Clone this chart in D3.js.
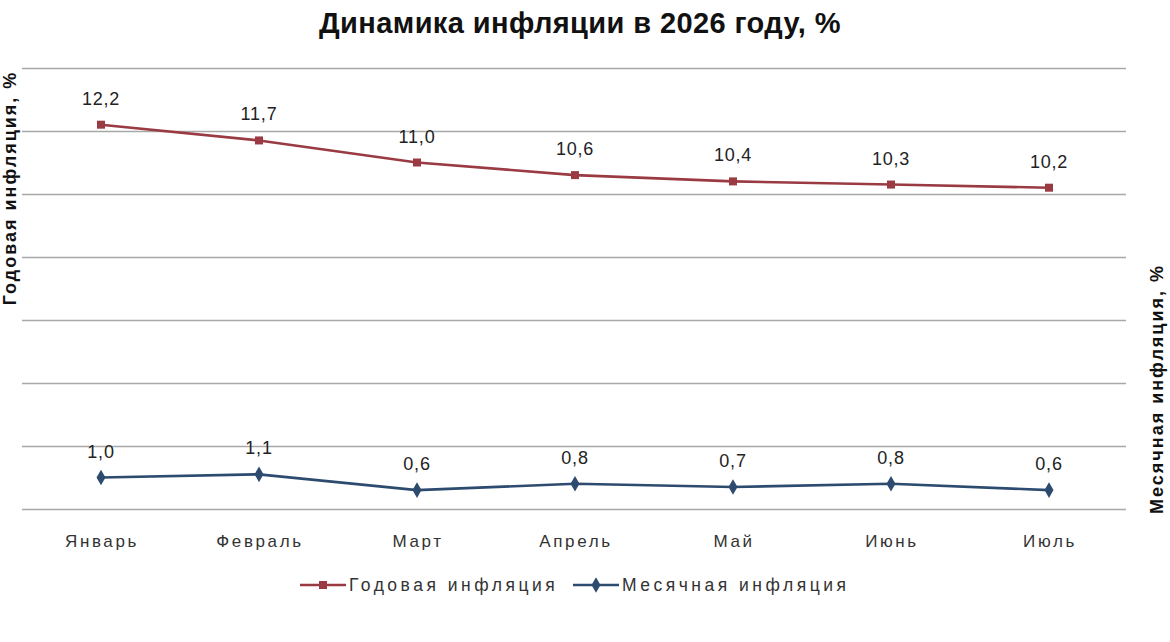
<!DOCTYPE html>
<html>
<head>
<meta charset="utf-8">
<script src="https://cdn.jsdelivr.net/npm/d3@7"></script>
<style>
  body { margin: 0; background: #fff; }
  svg { font-family: "Liberation Sans", Arial, sans-serif; }
</style>
</head>
<body>
<div id="chart"></div>
<script>
// values
const months = ["Январь", "Февраль", "Март", "Апрель", "Май", "Июнь", "Июль"];
const annual = [12.2, 11.7, 11.0, 10.6, 10.4, 10.3, 10.2];
const monthly = [1.0, 1.1, 0.6, 0.8, 0.7, 0.8, 0.6];
const yTicks = [0, 2, 4, 6, 8, 10, 12, 14];

const width = 1170, height = 642;
const margin = { top: 68, right: 42, bottom: 133, left: 22 };

const svg = d3.select("#chart").append("svg")
  .attr("width", width)
  .attr("height", height);

const x = d3.scaleBand().domain(months).range([margin.left, width - margin.right]);
const cx = m => x(m) + x.bandwidth() / 2;
const y = d3.scaleLinear().domain([0, 14]).range([height - margin.bottom, margin.top]);
// right axis has the same scale, no tick labels drawn
const y2 = d3.scaleLinear().domain([0, 14]).range([height - margin.bottom, margin.top]);

svg.append("text")
  .attr("x", 580).attr("y", 33)
  .attr("text-anchor", "middle")
  .attr("font-size", 29).attr("font-weight", "bold")
  .attr("letter-spacing", 0.4)
  .attr("fill", "#111")
  .text("Динамика инфляции в 2026 году, %");

// gridlines
svg.append("g")
  .attr("transform", `translate(${margin.left},0)`)
  .call(d3.axisLeft(y).tickValues(yTicks).tickSize(-(width - margin.left - margin.right - 2)).tickFormat(""))
  .call(g => g.select(".domain").remove())
  .call(g => g.selectAll(".tick line").attr("stroke", "#a8a8a8").attr("stroke-width", 1.6));

// category labels
svg.append("g")
  .selectAll("text").data(months).join("text")
  .attr("x", m => cx(m) + 1)
  .attr("y", 547)
  .attr("text-anchor", "middle")
  .attr("font-size", 17).attr("letter-spacing", 2.6)
  .attr("fill", "#333")
  .text(m => m);

// axis titles
svg.append("text")
  .attr("transform", "translate(16,188) rotate(-90)")
  .attr("text-anchor", "middle")
  .attr("font-size", 18).attr("font-weight", "bold").attr("letter-spacing", 2)
  .attr("fill", "#111")
  .text("Годовая инфляция, %");

svg.append("text")
  .attr("transform", "translate(1163,389) rotate(-90)")
  .attr("text-anchor", "middle")
  .attr("font-size", 18).attr("font-weight", "bold").attr("letter-spacing", 2)
  .attr("fill", "#111")
  .text("Месячная инфляция, %");

const series = [
  { name: "Годовая инфляция", values: annual, scale: y, color: "#9a3a42", marker: "square" },
  { name: "Месячная инфляция", values: monthly, scale: y2, color: "#2d4a6f", marker: "diamond" },
];

const fmt = v => v.toFixed(1).replace(".", ",");

series.forEach(s => {
  const pts = months.map((m, i) => [cx(m), s.scale(s.values[i]), s.values[i]]);
  svg.append("path")
    .attr("d", d3.line()(pts.map(p => [p[0], p[1]])))
    .attr("fill", "none")
    .attr("stroke", s.color)
    .attr("stroke-width", 2.6);

  const sym = s.marker === "square"
    ? d3.symbol().type(d3.symbolSquare).size(64)
    : d3.symbol().type(d3.symbolDiamond).size(70);
  svg.append("g").selectAll("path").data(pts).join("path")
    .attr("transform", p => `translate(${p[0]},${p[1]})`)
    .attr("d", sym)
    .attr("fill", s.color);

  svg.append("g").selectAll("text").data(pts).join("text")
    .attr("x", p => p[0])
    .attr("y", p => p[1] - 20)
    .attr("text-anchor", "middle")
    .attr("font-size", 18).attr("letter-spacing", 0.8)
    .attr("fill", "#222")
    .text(p => fmt(p[2]));
});

// legend
const legendX = [300, 573];
const legend = svg.append("g").selectAll("g").data(series).join("g")
  .attr("transform", (s, i) => `translate(${legendX[i]},585)`);
legend.append("line")
  .attr("x1", 0).attr("x2", 46)
  .attr("stroke", s => s.color).attr("stroke-width", 2.6);
legend.append("path")
  .attr("transform", "translate(23,0)")
  .attr("d", s => s.marker === "square"
    ? d3.symbol().type(d3.symbolSquare).size(64)()
    : d3.symbol().type(d3.symbolDiamond).size(70)())
  .attr("fill", s => s.color);
legend.append("text")
  .attr("x", 49).attr("y", 6)
  .attr("font-size", 17.5).attr("letter-spacing", 3.5)
  .attr("fill", "#333")
  .text(s => s.name);
</script>
</body>
</html>
